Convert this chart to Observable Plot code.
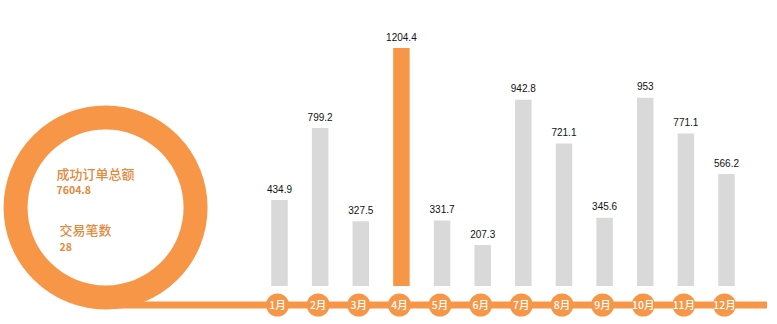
<!DOCTYPE html>
<html><head><meta charset="utf-8">
<script src="https://cdn.jsdelivr.net/npm/d3@7"></script>
<script src="https://cdn.jsdelivr.net/npm/@observablehq/plot@0.6"></script>
<style>
html,body{margin:0;padding:0;background:#fff;}
#chart svg{display:block;}
</style>
</head><body><div id="chart"></div>
<script>
// ---- data ----
const months = ["1月","2月","3月","4月","5月","6月","7月","8月","9月","10月","11月","12月"];
const monthIndex = [1,2,3,4,5,6,7,8,9,10,11,12];
const values = [434.9, 799.2, 327.5, 1204.4, 331.7, 207.3, 942.8, 721.1, 345.6, 953, 771.1, 566.2];
const summaryTitles = ["成功订单总额", "交易笔数"];
const orderCount = 28;

// ---- styles / layout (in scale units) ----
const ORANGE = "#F79646";
const GREY = "#D9D9D9";
const TEXT_ORANGE = "#E2893C";
const RING_X = -3.28, RING_Y = 400;     // ring centre
const LINE_Y = -93.6, LINE_END_X = 13.01; // baseline

const total = d3.sum(values);
const maxV = d3.max(values);
const data = months.map((m, i) => ({month: m, m: monthIndex[i], value: values[i], hi: values[i] === maxV}));
const summary = [
  {text: summaryTitles[0], size: 13, weight: 500, dx: -49, dy: -33},
  {text: total.toFixed(1), size: 10.5, weight: 700, dx: -49, dy: -17},
  {text: summaryTitles[1], size: 13, weight: 500, dx: -46, dy: 23},
  {text: String(orderCount), size: 10.5, weight: 700, dx: -46, dy: 40}
];

const fontCJK = "'Noto Sans CJK SC', 'Noto Sans', sans-serif";

const marks = [
  Plot.ruleY([LINE_Y], {x1: RING_X, x2: LINE_END_X, stroke: ORANGE, strokeWidth: 7}),
  Plot.dot([0], {x: RING_X, y: RING_Y, r: 90, stroke: ORANGE, strokeWidth: 24, fill: "none"}),
  Plot.ruleX(data, {x: "m", y1: 0, y2: "value", stroke: d => d.hi ? ORANGE : GREY, strokeWidth: 16.5}),
  Plot.text(data, {x: "m", y: "value", text: d => String(d.value), dy: -11, fontSize: 10, fill: "#111", fontFamily: "'Liberation Sans', Arial, sans-serif"}),
  Plot.dot(data, {x: "m", y: LINE_Y, r: 11.5, fill: ORANGE, dx: -2}),
  Plot.text(data, {x: "m", y: LINE_Y, text: "month", dx: -2, dy: 0.5, fill: "white", fontSize: 10.5, fontWeight: 500, fontFamily: fontCJK})
];
for (const s of summary) {
  marks.push(Plot.text([s], {x: RING_X, y: RING_Y, text: "text", textAnchor: "start", dx: s.dx, dy: s.dy,
    fontSize: s.size, fontWeight: s.weight, fill: TEXT_ORANGE, fontFamily: fontCJK}));
}

const chart = Plot.plot({
  width: 777,
  height: 324,
  margin: 0,
  x: {type: "linear", domain: [1, 12], range: [279, 726], axis: null},
  y: {domain: [0, maxV], range: [286, 48], axis: null},
  style: {background: "#fff", overflow: "visible"},
  marks
});
document.getElementById("chart").appendChild(chart);
</script>
</body></html>
